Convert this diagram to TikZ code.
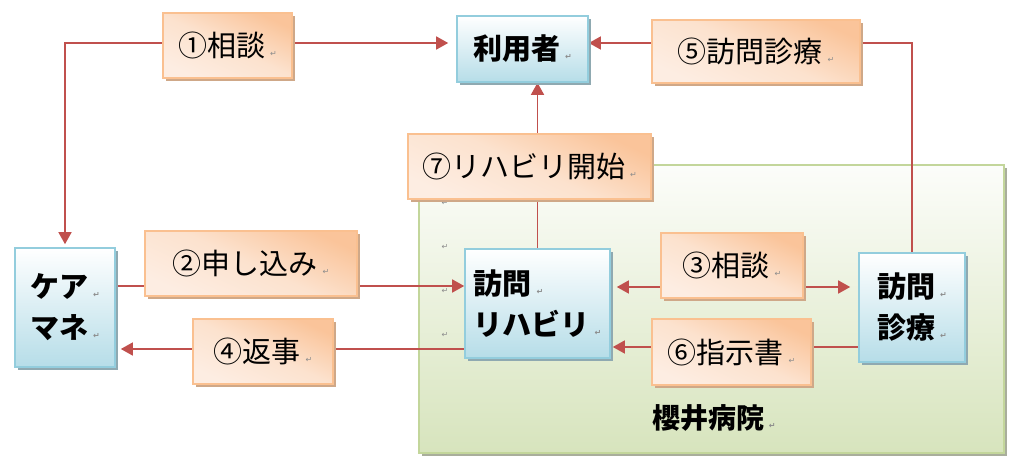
\documentclass[tikz,border=0pt]{standalone}
\usepackage{fontspec}
\setmainfont{Noto Sans CJK JP}
\newfontfamily\djv{DejaVu Sans}
\usetikzlibrary{arrows.meta,shadows}
\definecolor{arrred}{HTML}{C0504D}
\definecolor{bluebd}{HTML}{93CDDD}
\definecolor{bluelt}{HTML}{B6DDE8}
\definecolor{blueshd}{HTML}{8FA9B1}
\definecolor{orbd}{HTML}{FAC090}
\definecolor{ordk}{HTML}{FAC49A}
\definecolor{ormid}{HTML}{FCE2CE}
\definecolor{orlt}{HTML}{FDEDE2}
\definecolor{orshd}{HTML}{CFA888}
\definecolor{grbd}{HTML}{C3D69B}
\definecolor{grlt}{HTML}{D7E4BD}
\definecolor{grtop}{HTML}{FCFDFA}
\definecolor{grshd}{HTML}{A9AE9C}
\newcommand\pmk{\,{\djv\fontsize{8}{8}\selectfont\textcolor{black!45}{↵}}}
\pgfdeclarelayer{bg}
\pgfdeclarelayer{lines}
\pgfsetlayers{bg,lines,main}
\tikzset{
  bluebox/.style={draw=bluebd, line width=1.6pt, top color=white, bottom color=bluelt,
    inner sep=0pt, font=\bfseries\fontsize{29}{41}\selectfont, align=left,
    drop shadow={shadow xshift=3pt, shadow yshift=-3pt, fill=blueshd, opacity=1}},
  orbox/.style={draw=orbd, line width=1.6pt, top color=ordk, bottom color=orlt, middle color=ormid,
    shading angle=-25, inner sep=0pt, font=\fontsize{29}{34}\selectfont,
    drop shadow={shadow xshift=3pt, shadow yshift=-3pt, fill=orshd, opacity=1}},
  hospbox/.style={draw=grbd, line width=1.6pt, top color=grtop, bottom color=grlt, inner sep=0pt,
    drop shadow={shadow xshift=3pt, shadow yshift=-3pt, fill=grshd, opacity=1}},
  arr/.style={draw=arrred, line width=1.5pt, -{Triangle[length=12pt,width=13pt]}},
  ln/.style={draw=arrred, line width=1.5pt},
  lab/.style={font=\bfseries\fontsize{28}{30}\selectfont, inner sep=0pt},
  pm/.style={inner sep=0pt, font=\djv\fontsize{8}{8}\selectfont, text=black!45}
}
\begin{document}
\begin{tikzpicture}[x=1pt,y=-1pt]
\useasboundingbox (0,0) rectangle (1024,473);
\begin{pgfonlayer}{bg}
\node[hospbox, minimum width=585pt, minimum height=288pt] (hosp) at (711.5,309) {};
\end{pgfonlayer}
\node[pm] (p1) at (445,203) {↵};
\node[pm] (p2) at (445,247) {↵};
\node[pm] (p3) at (445,291) {↵};
\node[pm] (p4) at (445,335) {↵};
\node[lab] (hl) at (714,418) {櫻井病院\pmk};

\node[bluebox, minimum width=131pt, minimum height=66pt] (user) at (522.5,49) {利用者\pmk};
\node[bluebox, minimum width=100pt, minimum height=119pt] (cm) at (65,307.5) {ケア\pmk\\マネ\pmk};
\node[bluebox, minimum width=145pt, minimum height=109pt] (rh) at (537.5,303.5) {訪問\pmk\\リハビリ\pmk};
\node[bluebox, minimum width=106pt, minimum height=109pt] (dr) at (912,307.5) {訪問\pmk\\診療\pmk};

\node[orbox, minimum width=129pt, minimum height=65pt] (c1) at (227.5,45.5) {①相談\pmk};
\node[orbox, minimum width=212pt, minimum height=65pt] (c2) at (251,263.5) {②申し込み\pmk};
\node[orbox, minimum width=142pt, minimum height=65pt] (c3) at (732,265.5) {③相談\pmk};
\node[orbox, minimum width=140pt, minimum height=65pt] (c4) at (263,351.5) {④返事\pmk};
\node[orbox, minimum width=208pt, minimum height=63pt] (c5) at (756,51.5) {⑤訪問診療\pmk};
\node[orbox, minimum width=159pt, minimum height=66pt] (c6) at (731.5,352) {⑥指示書\pmk};
\node[orbox, minimum width=243pt, minimum height=65pt] (c7) at (529.5,166.5) {⑦リハビリ開始\pmk};

\coordinate (l1) at (0,43);
\coordinate (l2) at (0,286);
\coordinate (l3) at (0,287);
\coordinate (l4) at (0,349);
\coordinate (l5) at (0,43);
\coordinate (l6) at (0,347);

\begin{pgfonlayer}{lines}
\draw[arr, shorten >=8pt] (c1.east |- l1) -- (user.west |- l1);
\draw[arr, shorten >=3pt] (c1.west |- l1) -| (cm.north);
\draw[arr] (c5.west |- l5) -- (user.east |- l5);
\draw[ln] (c5.east |- l5) -| (dr.north);
\draw[arr] (rh.north) -- (rh.north |- user.south);
\draw[arr] (cm.east |- l2) -- (rh.west |- l2);
\draw[arr, shorten >=5pt] (rh.west |- l4) -- (cm.east |- l4);
\draw[arr, {Triangle[length=12pt,width=13pt]}-{Triangle[length=12pt,width=13pt]}, shorten <=6pt, shorten >=8pt] (rh.east |- l3) -- (dr.west |- l3);
\draw[arr, shorten >=2pt] (dr.west |- l6) -- (rh.east |- l6);
\end{pgfonlayer}
\end{tikzpicture}
\end{document}
